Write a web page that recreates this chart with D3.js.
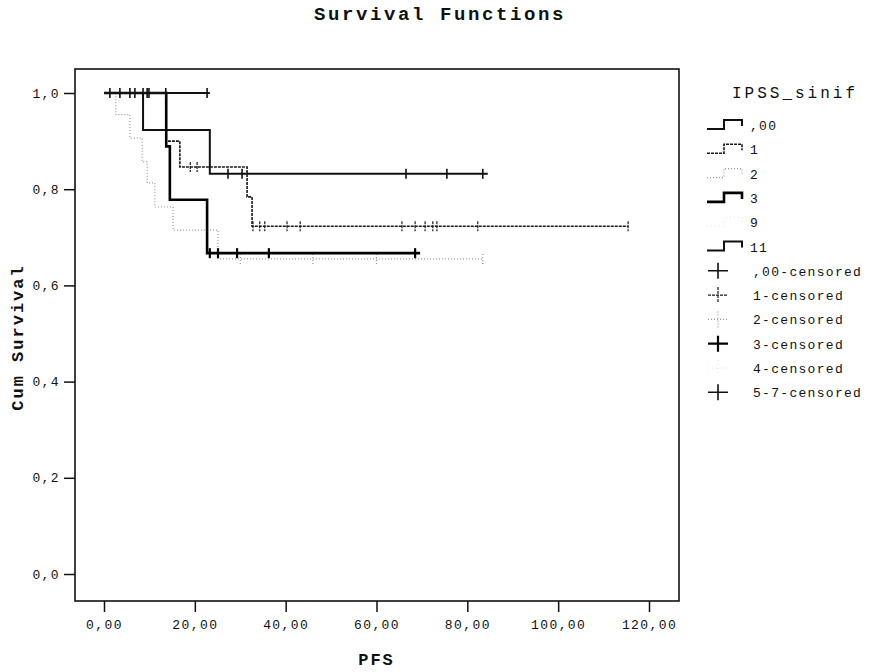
<!DOCTYPE html>
<meta charset="utf-8">
<style>
 body { margin: 0; background: #fff; }
 text { font-family: "Liberation Mono", "DejaVu Sans Mono", monospace; fill: #111; }
 .tick text { font-size: 13px; letter-spacing: 1.4px; }
 .tick line { stroke: #111; stroke-width: 1.5px; }
 .axis-title { font-size: 17px; font-weight: bold; letter-spacing: 2px; }
 .title { font-size: 19px; font-weight: bold; letter-spacing: 2.6px; }
 .legend text { font-size: 13px; letter-spacing: 1.3px; }
 .legend .head { font-size: 16px; letter-spacing: 3px; }
 .frame { fill: none; stroke: #111; stroke-width: 1.6px; }
</style>

<svg id="chart" width="870" height="672"></svg>

<script src="https://cdn.jsdelivr.net/npm/d3@7"></script>

<script>

 // legend order
 var groupNames  = [",00", "1", "2", "3", "9", "11"];
 var censorNames = [",00-censored", "1-censored", "2-censored", "3-censored", "4-censored", "5-7-censored"];

 // each curve: step times, survival after the step, last time, censored times
 var times00 = [0, 8.6, 23.3];
 var surv00  = [1, 0.923, 0.832];
 var end00   = 84.5;
 var cens00  = [27.3, 30.4, 66.5, 75.5, 83.4];

 var times1 = [0, 13.7, 16.7, 31.5, 32.6];
 var surv1  = [1, 0.90, 0.846, 0.784, 0.723];
 var end1   = 115.4;
 var cens1  = [19.0, 20.5, 32.8, 34.3, 35.4, 40.3, 43.2, 65.6, 68.5, 70.7, 72.4, 73.3, 82.3, 115.4];

 var times2 = [0, 2.6, 5.7, 8.4, 9.5, 11.2, 15.2, 25.1];
 var surv2  = [1, 0.955, 0.906, 0.857, 0.813, 0.763, 0.715, 0.655];
 var end2   = 83.4;
 var cens2  = [30.0, 46.0, 60.0, 83.4];

 var times3 = [0, 13.7, 14.5, 22.7];
 var surv3  = [1, 0.889, 0.778, 0.667];
 var end3   = 69.6;
 var cens3  = [23.3, 25.1, 29.3, 36.3, 68.5];

 var times11 = [0];
 var surv11  = [1];
 var end11   = 23.3;
 var cens11  = [1.3, 3.5, 5.7, 6.8, 8.6, 9.5, 9.9, 13.6, 22.7];

 var xTicks = [0, 20, 40, 60, 80, 100, 120];
 var yTicks = [0, 0.2, 0.4, 0.6, 0.8, 1.0];

 // styles per group (legend order)
 var lineStyle = [
     {stroke: "#111", width: 2,   dash: null},
     {stroke: "#1a1a1a", width: 1.6, dash: "3,1"},
     {stroke: "#999", width: 1.2, dash: "1,2"},
     {stroke: "#000", width: 2.6, dash: null},
     {stroke: "#e4e4e4", width: 1, dash: "1,3"},
     {stroke: "#111", width: 2,   dash: null}
 ];

 var curves = [
     {g: 0, t: times00, s: surv00, end: end00, c: cens00},
     {g: 1, t: times1,  s: surv1,  end: end1,  c: cens1},
     {g: 2, t: times2,  s: surv2,  end: end2,  c: cens2},
     {g: 3, t: times3,  s: surv3,  end: end3,  c: cens3},
     {g: 5, t: times11, s: surv11, end: end11, c: cens11}
 ];

 var frameL = 75, frameR = 679, frameT = 69, frameB = 601;

 var svg = d3.select("#chart");

 var x = d3.scaleLinear().domain([0, 120]).range([104, 649]);
 var y = d3.scaleLinear().domain([0, 1]).range([574, 93]);

 var loc = d3.formatLocale({decimal: ",", thousands: ".", grouping: [3], currency: ["", ""]});

 svg.append("text").attr("class", "title")
    .attr("x", 440).attr("y", 20).attr("text-anchor", "middle")
    .text("Survival Functions");

 // axes
 var xAxis = svg.append("g").attr("transform", "translate(0," + frameB + ")")
    .call(d3.axisBottom(x).tickValues(xTicks).tickSize(11).tickPadding(8).tickFormat(loc.format(".2f")));
 xAxis.select(".domain").remove();

 var yAxis = svg.append("g").attr("transform", "translate(" + frameL + ",0)")
    .call(d3.axisLeft(y).tickValues(yTicks).tickSize(11).tickPadding(4).tickFormat(loc.format(".1f")));
 yAxis.select(".domain").remove();

 svg.append("rect").attr("class", "frame")
    .attr("x", frameL).attr("y", frameT)
    .attr("width", frameR - frameL).attr("height", frameB - frameT);

 svg.append("text").attr("class", "axis-title")
    .attr("x", x(60)).attr("y", 665).attr("text-anchor", "middle").text("PFS");

 svg.append("text").attr("class", "axis-title")
    .attr("transform", "translate(23," + (y(0.5) + 4) + ") rotate(-90)")
    .attr("text-anchor", "middle").text("Cum Survival");

 // curves
 var line = d3.line().x(function(d) { return x(d[0]); }).y(function(d) { return y(d[1]); })
              .curve(d3.curveStepAfter);

 function survAt(cv, t) {
     var s = cv.s[0];
     for (var i = 0; i < cv.t.length; i++) {
         if (cv.t[i] <= t) s = cv.s[i];
     }
     return s;
 }

 var plot = svg.append("g");

 curves.forEach(function(cv) {
     var st = lineStyle[cv.g];
     var pts = cv.t.map(function(t, i) { return [t, cv.s[i]]; });
     pts.push([cv.end, cv.s[cv.s.length - 1]]);
     plot.append("path").attr("d", line(pts))
         .attr("fill", "none").attr("stroke", st.stroke)
         .attr("stroke-width", st.width).attr("stroke-dasharray", st.dash);

     plot.selectAll(null).data(cv.c).enter().append("line")
         .attr("x1", function(d) { return x(d); }).attr("x2", function(d) { return x(d); })
         .attr("y1", function(d) { return y(survAt(cv, d)) - 5; })
         .attr("y2", function(d) { return y(survAt(cv, d)) + 5; })
         .attr("stroke", st.stroke).attr("stroke-width", Math.max(1.2, st.width - 0.4))
         .attr("stroke-dasharray", st.dash);
 });

 // legend
 var legend = svg.append("g").attr("class", "legend");
 legend.append("text").attr("class", "head")
       .attr("x", 795).attr("y", 98).attr("text-anchor", "middle").text("IPSS_sinif");

 var rowY = function(i) { return 125 + i * 24.3; };

 groupNames.forEach(function(name, i) {
     var st = lineStyle[i], yy = rowY(i);
     legend.append("path")
           .attr("d", "M707," + (yy + 4) + "H724V" + (yy - 5) + "H742V" + (yy + 1))
           .attr("fill", "none").attr("stroke", st.stroke)
           .attr("stroke-width", st.width).attr("stroke-dasharray", st.dash);
     legend.append("text").attr("x", 750).attr("y", yy + 5).text(name);
 });

 censorNames.forEach(function(name, i) {
     var st = lineStyle[i], yy = rowY(i + 6);
     legend.append("path")
           .attr("d", "M708," + yy + "H728M718," + (yy - 8) + "V" + (yy + 8))
           .attr("fill", "none").attr("stroke", st.stroke)
           .attr("stroke-width", Math.max(1.2, st.width - 0.4)).attr("stroke-dasharray", st.dash);
     legend.append("text").attr("x", 753).attr("y", yy + 5).text(name);
 });

</script>
